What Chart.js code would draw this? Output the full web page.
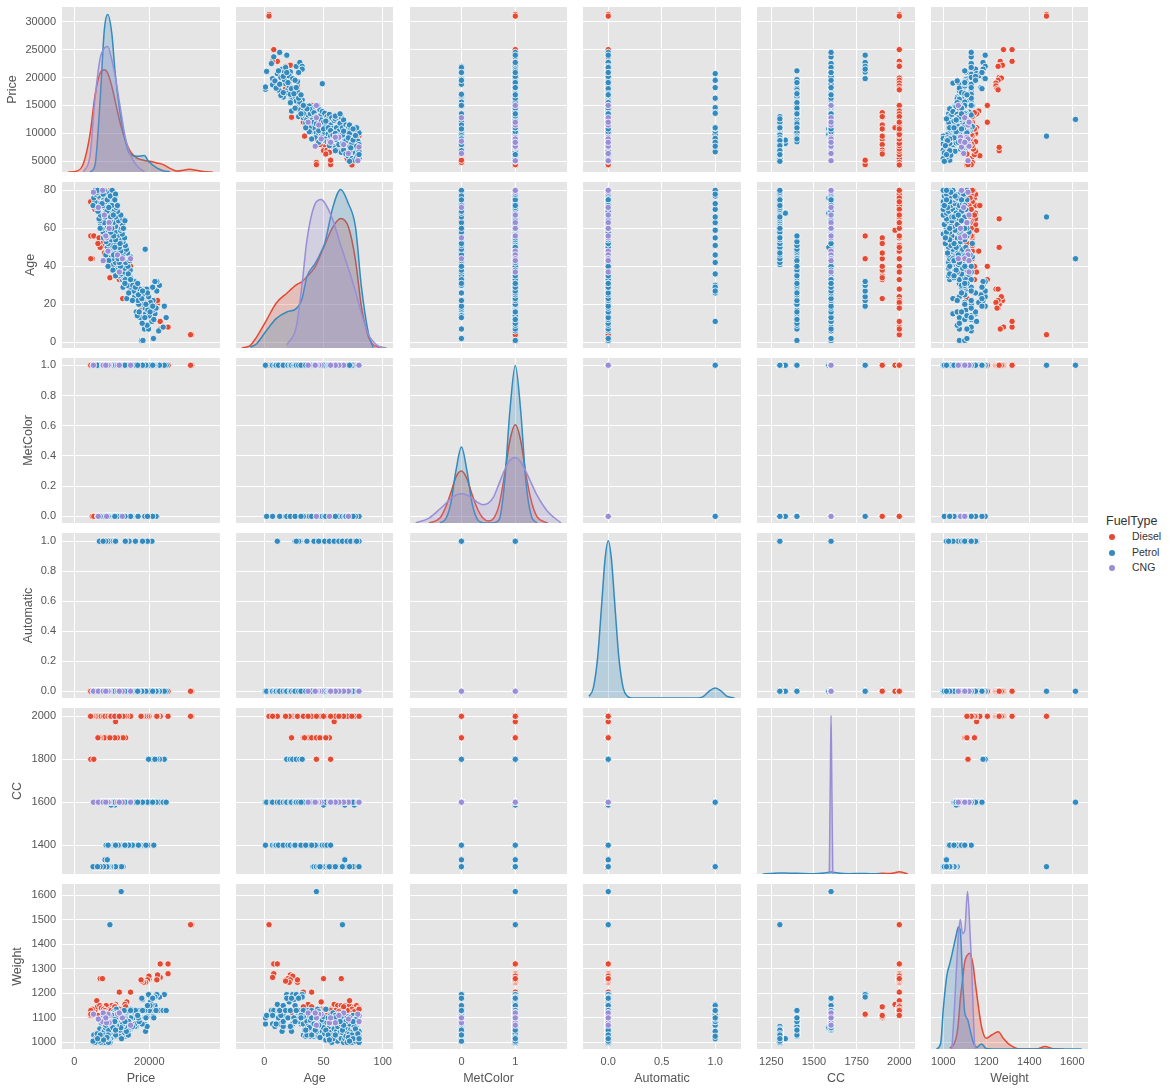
<!DOCTYPE html>
<html>
<head>
<meta charset="utf-8">
<title>Pair plot</title>
<script src="https://cdn.jsdelivr.net/npm/chart.js@4"></script>
<style>
    body { margin: 0; background: #fff; font-family: "Liberation Sans", Arial, sans-serif; }
    #grid { position: relative; width: 1171px; height: 1090px; overflow: hidden; }
    #grid canvas { position: absolute; }
    #legend { position: absolute; left: 1106px; top: 513px; color: #333; font-size: 10.5px; }
    #legend .title { font-size: 12.5px; height: 16px; line-height: 16px; }
    #legend .row { position: relative; height: 15.5px; line-height: 15.5px; padding-left: 26px; }
    #legend .dot { position: absolute; left: 2.5px; top: 5px; width: 6px; height: 6px; border-radius: 50%; }
</style>
</head>
<body>
<div id="grid">
    <div id="legend">
        <div class="title">FuelType</div>
        <div class="row"><span class="dot" style="background:#E24A33"></span>Diesel</div>
        <div class="row"><span class="dot" style="background:#348ABD"></span>Petrol</div>
        <div class="row"><span class="dot" style="background:#988ED5"></span>CNG</div>
    </div>
</div>
<script>
const variables = ['Price', 'Age', 'MetColor', 'Automatic', 'CC', 'Weight'];
const fuelTypes = ['Diesel', 'Petrol', 'CNG'];

// Tick labels
const priceTicksY = [5000, 10000, 15000, 20000, 25000, 30000];
const priceTicksX = [0, 20000];
const ageTicksY = [0, 20, 40, 60, 80];
const ageTicksX = [0, 50, 100];
const metColorTicksY = [0, 0.2, 0.4, 0.6, 0.8, 1];
const metColorTicksX = [0, 1];
const automaticTicksY = [0, 0.2, 0.4, 0.6, 0.8, 1];
const automaticTicksX = [0, 0.5, 1];
const ccTicksY = [1400, 1600, 1800, 2000];
const ccTicksX = [1250, 1500, 1750, 2000];
const weightTicksY = [1000, 1100, 1200, 1300, 1400, 1500, 1600];
const weightTicksX = [1000, 1200, 1400, 1600];

// Diesel cars
const dieselPrice = [
    31300, 31000, 25000, 25000, 22900, 22900, 22100, 22200, 22000, 20000,
    19900, 19500, 19000, 18500, 18000, 17800, 15000, 12000, 14000, 13500,
    13000, 12000, 11000, 10500, 10000, 9500, 9000, 8500, 8000, 7600,
    7000, 6900, 7500, 6000, 5500, 6200, 6800, 7200, 7800, 8200,
    9000, 9600, 10200, 9800, 11200, 10800, 12000, 4800, 4400, 4350,
    4400, 5200, 12900, 13700, 13000, 11500, 10800, 9000, 8000, 9500,
    7000, 6600, 6300];
const dieselAge = [
    4, 4, 8, 8, 11, 7, 20, 22, 18, 20,
    24, 22, 21, 28, 18, 28, 40, 33, 48, 37,
    55, 48, 59, 62, 65, 56, 60, 68, 64, 51,
    72, 50, 65, 72, 70, 76, 78, 80, 74, 78,
    76, 80, 72, 70, 66, 67, 63, 44, 56, 74,
    44, 56, 23, 33, 35, 38, 40, 44, 47, 34,
    53, 55, 52];
const dieselMetColor = [
    1, 1, 1, 1, 1, 1, 1, 1, 1, 1,
    1, 1, 1, 1, 1, 1, 1, 1, 1, 1,
    1, 0, 1, 0, 1, 1, 1, 1, 0, 1,
    1, 1, 1, 1, 0, 1, 1, 1, 0, 1,
    1, 1, 1, 1, 1, 0, 1, 0, 1, 1,
    1, 0, 1, 1, 1, 0, 1, 1, 1, 0,
    1, 1, 0];
const dieselAutomatic = [
    0, 0, 0, 0, 0, 0, 0, 0, 0, 0,
    0, 0, 0, 0, 0, 0, 0, 0, 0, 0,
    0, 0, 0, 0, 0, 0, 0, 0, 0, 0,
    0, 0, 0, 0, 0, 0, 0, 0, 0, 0,
    0, 0, 0, 0, 0, 0, 0, 0, 0, 0,
    0, 0, 0, 0, 0, 0, 0, 0, 0, 0,
    0, 0, 0];
const dieselCC = [
    2000, 2000, 2000, 2000, 2000, 2000, 2000, 2000, 2000, 2000,
    2000, 2000, 2000, 2000, 2000, 2000, 2000, 2000, 2000, 2000,
    2000, 2000, 1975, 2000, 2000, 2000, 2000, 2000, 2000, 2000,
    2000, 2000, 2000, 2000, 2000, 2000, 2000, 2000, 2000, 2000,
    2000, 2000, 2000, 2000, 2000, 2000, 2000, 2000, 2000, 2000,
    1800, 1800, 1900, 1900, 1900, 1900, 1900, 1900, 1900, 1900,
    1900, 1900, 1900];
const dieselWeight = [
    1480, 1480, 1320, 1280, 1320, 1265, 1260, 1275, 1255, 1260,
    1270, 1255, 1245, 1245, 1250, 1255, 1205, 1205, 1165, 1155,
    1135, 1135, 1155, 1150, 1150, 1135, 1130, 1150, 1130, 1135,
    1150, 1260, 1260, 1170, 1130, 1145, 1150, 1140, 1135, 1130,
    1125, 1135, 1120, 1130, 1120, 1145, 1125, 1135, 1130, 1110,
    1115, 1115, 1110, 1145, 1110, 1105, 1145, 1105, 1110, 1110,
    1100, 1105, 1110];

// Petrol cars
const petrolPrice = [
    17900, 18300, 21100, 22500, 23700, 18700, 19800, 20600, 24500, 17600,
    21500, 19000, 16500, 21000, 19400, 20700, 18100, 20000, 18900, 19900,
    24000, 21000, 19600, 17800, 20300, 18500, 16200, 17200, 19800, 22000,
    22700, 22000, 21500, 16100, 18200, 16600, 15800, 17500, 19300, 14800,
    15300, 14000, 16000, 13000, 14200, 15600, 18900, 12500, 9500, 8200,
    14000, 12800, 15000, 13200, 13800, 11900, 14600, 12500, 13300, 11400,
    14900, 12000, 13500, 10900, 14300, 11300, 12600, 10400, 13700, 11000,
    14800, 12200, 13000, 10100, 15000, 11600, 12900, 9800, 14200, 10700,
    13400, 9500, 13600, 14400, 11000, 12300, 12000, 11700, 10500, 12400,
    13900, 9300, 12000, 8800, 13600, 10200, 11200, 9000, 13000, 8500,
    12500, 9900, 13400, 8300, 11500, 9500, 12800, 8100, 10900, 7700,
    12300, 9100, 12600, 7400, 11000, 8900, 12900, 7100, 10400, 8000,
    11800, 6800, 10800, 12200, 11000, 10500, 9700, 10000, 9400, 9600,
    12900, 6600, 11000, 8200, 12400, 7000, 8800, 9900, 11500, 6300,
    10700, 8400, 11200, 5900, 9500, 7600, 10900, 6800, 9000, 5500,
    10300, 7900, 9800, 5200, 11000, 6500, 9400, 5700, 8600, 7200,
    10100, 5500, 8000, 6700, 8300, 9100, 10000, 8200, 10600, 7700,
    9700, 8700, 9200, 7400, 8800, 9600, 6100, 10400,
    21200, 16800, 17300, 18800, 20200, 21800, 19100, 20900, 17000, 15500,
    18000, 19500, 17100, 16300, 14500, 15000, 18200, 20900, 16900, 13500,
    9200, 10300, 9000, 8700, 8400, 11000, 7800, 6900, 13100, 13500,
    11500, 11000, 10800, 5000, 6200];
const petrolAge = [
    1, 1, 2, 6, 8, 7, 7, 12, 13, 13,
    15, 15, 16, 17, 9, 11, 10, 14, 18, 19,
    19, 22, 17, 20, 21, 21, 23, 20, 24, 27,
    30, 32, 32, 24, 25, 26, 27, 28, 28, 29,
    31, 23, 32, 29, 30, 30, 49, 44, 66, 68,
    33, 33, 34, 34, 35, 35, 36, 36, 37, 37,
    38, 38, 39, 39, 40, 40, 41, 41, 42, 42,
    43, 43, 44, 44, 45, 45, 46, 46, 47, 47,
    48, 48, 33, 36, 38, 40, 42, 44, 46, 48,
    49, 49, 50, 50, 51, 51, 52, 52, 53, 53,
    54, 54, 55, 55, 56, 56, 57, 57, 58, 58,
    59, 59, 60, 60, 61, 61, 62, 62, 63, 63,
    64, 64, 50, 52, 54, 56, 58, 60, 62, 64,
    65, 65, 66, 66, 67, 67, 68, 68, 69, 69,
    70, 70, 71, 71, 72, 72, 73, 73, 74, 74,
    75, 75, 76, 76, 77, 77, 78, 78, 79, 79,
    80, 80, 80, 80, 68, 70, 72, 74, 76, 78,
    66, 69, 71, 73, 75, 77, 79, 67,
    12, 14, 16, 13, 16, 18, 20, 19, 22, 22,
    23, 26, 25, 29, 26, 33, 27, 29, 31, 31,
    43, 38, 40, 47, 46, 35, 55, 60, 60, 64,
    72, 78, 75, 72, 80];
const petrolMetColor = [
    1, 1, 0, 1, 1, 1, 0, 1, 1, 1,
    1, 1, 0, 1, 1, 1, 1, 1, 1, 1,
    1, 1, 0, 1, 1, 1, 1, 1, 1, 1,
    1, 0, 1, 1, 1, 0, 1, 1, 1, 1,
    1, 1, 1, 1, 1, 0, 1, 1, 1, 1,
    1, 1, 0, 1, 1, 0, 1, 1, 1, 0,
    1, 1, 0, 1, 1, 0, 1, 1, 1, 0,
    1, 1, 0, 1, 1, 1, 0, 1, 1, 1,
    0, 1, 1, 1, 0, 1, 1, 1, 0, 1,
    1, 0, 1, 1, 0, 1, 1, 1, 0, 1,
    1, 0, 1, 1, 1, 0, 1, 1, 0, 1,
    1, 1, 0, 1, 1, 0, 1, 1, 1, 0,
    1, 1, 1, 0, 1, 1, 0, 1, 1, 1,
    1, 1, 0, 1, 1, 1, 0, 1, 1, 0,
    1, 1, 0, 1, 1, 1, 0, 1, 1, 1,
    0, 1, 1, 1, 1, 0, 1, 1, 0, 1,
    1, 1, 0, 1, 1, 1, 0, 1, 1, 1,
    1, 0, 1, 1, 1, 0, 1, 1,
    1, 0, 1, 0, 1, 0, 1, 0, 0, 1,
    1, 0, 1, 1, 1, 0, 1, 1, 1, 0,
    0, 1, 0, 1, 1, 1, 1, 0, 1, 1,
    0, 1, 0, 1, 1];
const petrolAutomatic = [
    0, 0, 0, 0, 0, 0, 0, 0, 0, 0,
    0, 0, 0, 0, 0, 1, 0, 0, 0, 0,
    0, 0, 0, 0, 0, 0, 0, 0, 0, 0,
    0, 0, 0, 0, 0, 0, 0, 0, 0, 0,
    0, 0, 0, 0, 1, 0, 0, 0, 0, 0,
    0, 0, 0, 0, 0, 0, 1, 0, 0, 0,
    0, 0, 0, 0, 0, 0, 0, 0, 1, 0,
    0, 0, 0, 0, 0, 0, 0, 1, 0, 0,
    0, 0, 0, 0, 0, 0, 0, 0, 1, 0,
    0, 0, 0, 0, 1, 0, 0, 0, 0, 0,
    0, 0, 0, 1, 0, 0, 0, 0, 0, 0,
    0, 1, 0, 0, 0, 0, 0, 0, 1, 0,
    0, 0, 0, 0, 0, 0, 0, 0, 0, 0,
    0, 0, 1, 0, 0, 0, 0, 0, 0, 0,
    0, 1, 0, 0, 0, 0, 1, 0, 0, 0,
    0, 0, 0, 0, 1, 0, 0, 0, 0, 0,
    0, 0, 0, 1, 0, 0, 0, 0, 0, 1,
    0, 0, 0, 0, 0, 0, 0, 0,
    0, 0, 0, 0, 0, 0, 0, 0, 0, 0,
    0, 1, 0, 1, 0, 0, 1, 0, 0, 0,
    0, 0, 0, 0, 0, 0, 0, 0, 0, 0,
    0, 0, 0, 0, 0];
const petrolCC = [
    1400, 1600, 1600, 1600, 1600, 1400, 1600, 1600, 1600, 1400,
    1600, 1400, 1400, 1600, 1400, 1600, 1400, 1600, 1600, 1800,
    1800, 1800, 1400, 1400, 1600, 1600, 1400, 1400, 1800, 1800,
    1800, 1800, 1800, 1400, 1600, 1400, 1400, 1600, 1600, 1400,
    1400, 1400, 1600, 1400, 1600, 1400, 1600, 1600, 1300, 1332,
    1400, 1600, 1600, 1400, 1600, 1400, 1600, 1400, 1600, 1400,
    1400, 1600, 1400, 1600, 1400, 1600, 1600, 1300, 1600, 1300,
    1400, 1600, 1300, 1400, 1600, 1400, 1600, 1300, 1400, 1600,
    1400, 1300, 1600, 1400, 1400, 1600, 1400, 1400, 1600, 1600,
    1400, 1600, 1300, 1600, 1600, 1400, 1600, 1300, 1600, 1400,
    1600, 1300, 1600, 1300, 1600, 1400, 1600, 1300, 1600, 1300,
    1600, 1600, 1300, 1600, 1300, 1300, 1600, 1300, 1600, 1300,
    1600, 1300, 1587, 1600, 1300, 1600, 1300, 1600, 1600, 1300,
    1600, 1300, 1600, 1300, 1600, 1300, 1332, 1587, 1600, 1300,
    1600, 1300, 1600, 1300, 1300, 1300, 1600, 1300, 1300, 1300,
    1600, 1300, 1587, 1300, 1600, 1300, 1600, 1300, 1300, 1600,
    1600, 1300, 1300, 1300, 1600, 1300, 1600, 1300, 1600, 1600,
    1300, 1600, 1300, 1600, 1300, 1600, 1300, 1600,
    1400, 1600, 1400, 1600, 1600, 1600, 1400, 1600, 1600, 1400,
    1600, 1600, 1400, 1600, 1400, 1600, 1600, 1600, 1600, 1400,
    1400, 1600, 1400, 1300, 1600, 1400, 1300, 1300, 1600, 1600,
    1600, 1600, 1600, 1300, 1300];
const petrolWeight = [
    1075, 1100, 1110, 1130, 1130, 1075, 1110, 1130, 1130, 1075,
    1150, 1045, 1065, 1105, 1065, 1155, 1075, 1130, 1105, 1190,
    1195, 1185, 1105, 1130, 1165, 1100, 1065, 1100, 1195, 1195,
    1185, 1195, 1185, 1075, 1175, 1100, 1130, 1130, 1105, 1100,
    1075, 1045, 1110, 1085, 1085, 1100, 1100, 1615, 1480, 1015,
    1030, 1075, 1100, 1050, 1120, 1025, 1085, 1040, 1130, 1065,
    1055, 1110, 1025, 1090, 1045, 1130, 1070, 1035, 1105, 1025,
    1060, 1115, 1030, 1085, 1135, 1050, 1095, 1025, 1075, 1120,
    1040, 1065, 1105, 1030, 1055, 1100, 1075, 1045, 1125, 1085,
    1045, 1090, 1025, 1105, 1070, 1035, 1135, 1010, 1080, 1050,
    1100, 1025, 1065, 1015, 1110, 1040, 1075, 1000, 1120, 1030,
    1055, 1085, 1015, 1100, 1045, 1025, 1070, 1005, 1115, 1035,
    1060, 1020, 1060, 1050, 1030, 1080, 1015, 1110, 1065, 1040,
    1075, 1015, 1100, 1040, 1060, 1000, 1015, 1065, 1090, 1025,
    1105, 1045, 1070, 1010, 1000, 1035, 1085, 1055, 1020, 1000,
    1110, 1050, 1060, 1030, 1095, 1005, 1070, 1015, 1040, 1080,
    1110, 1000, 1045, 1025, 1060, 1000, 1075, 1030, 1065, 1100,
    1050, 1085, 1020, 1090, 1015, 1055, 1035, 1070,
    1100, 1110, 1085, 1130, 1150, 1130, 1100, 1180, 1130, 1065,
    1180, 1150, 1100, 1130, 1085, 1130, 1130, 1180, 1110, 1100,
    1050, 1060, 1030, 1020, 1070, 1050, 1010, 1030, 1100, 1085,
    1100, 1095, 1085, 1005, 1015];

// CNG cars
const cngPrice = [5100, 7550, 6400, 8000, 9300, 9300, 8600, 9000, 11500, 12800, 15000, 7700, 12000, 8400];
const cngAge = [79, 80, 71, 67, 63, 60, 55, 48, 46, 44, 44, 43, 37, 56];
const cngMetColor = [1, 1, 0, 1, 1, 1, 0, 1, 1, 0, 1, 1, 1, 1];
const cngAutomatic = [0, 0, 0, 0, 0, 0, 0, 0, 0, 0, 0, 0, 0, 0];
const cngCC = [1600, 1600, 1600, 1600, 1600, 1600, 1600, 1600, 1600, 1600, 1600, 1600, 1600, 1600];
const cngWeight = [1115, 1085, 1095, 1120, 1110, 1080, 1080, 1115, 1115, 1100, 1070, 1120, 1120, 1100];

// Density curves on the diagonal: height as a share of the panel, null where a curve stops
const priceKdeX = [-1600, 600, 2400, 4200, 5500, 6900, 8000, 8900, 10000, 10900, 12200, 13500, 14800, 16600, 18700, 19700, 22000, 23700, 25500, 27300, 30800, 32600, 34400, 36900];
const priceKdeDiesel = [0, .005, .05, .23, .46, .6, .62, .6, .52, .43, .3, .2, .13, .085, .07, .067, .055, .045, .022, .006, .016, .01, .003, 0];
const priceKdePetrol = [null, null, null, 0, .04, .44, .86, .955, .84, .6, .36, .2, .11, .095, .1, .067, .025, .008, .002, null, null, null, null, null];
const priceKdeCng = [null, null, 0, .1, .44, .69, .75, .76, .68, .58, .4, .22, .11, .04, 0, null, null, null, null, null, null, null, null, null];

const ageKdeX = [-19, -12, -6.5, 2, 10, 19, 27, 32, 36, 43, 48, 51, 58, 64.5, 71, 77, 82, 88, 92, 96, 103];
const ageKdeDiesel = [0, .015, .066, .17, .27, .33, .38, .4, .43, .49, .57, .62, .73, .78, .73, .53, .25, .066, .02, .008, 0];
const ageKdePetrol = [null, .005, .026, .107, .177, .217, .237, .3, .43, .51, .58, .63, .85, .955, .87, .73, .37, .087, 0, null, null];
const ageKdeCng = [null, null, null, null, null, .02, .127, .39, .65, .87, .895, .875, .77, .62, .48, .34, .21, .08, .04, .012, 0];

const metColorKdeX = [-.85, -.6, -.4, -.3, -.2, -.1, 0, .1, .2, .3, .4, .5, .6, .7, .8, .9, 1, 1.1, 1.2, 1.3, 1.4, 1.6, 1.85];
const metColorKdeDiesel = [null, 0, .03, .09, .18, .28, .315, .27, .17, .085, .03, .012, .03, .11, .29, .5, .595, .5, .29, .13, .04, 0, null];
const metColorKdePetrol = [null, null, .002, .02, .115, .32, .46, .32, .115, .02, .002, 0, .002, .02, .24, .68, .955, .68, .24, .04, .002, null, null];
const metColorKdeCng = [0, .03, .085, .115, .15, .17, .178, .17, .15, .125, .11, .12, .16, .24, .32, .38, .397, .37, .31, .24, .17, .07, 0];

const automaticKdeX = [-.18, -.14, -.1, -.06, -.03, 0, .03, .06, .1, .14, .18, .22, .8, .86, .9, .95, 1, 1.05, 1.1, 1.14, 1.18];
const automaticKdePetrol = [.01, .06, .24, .58, .84, .953, .84, .58, .24, .06, .01, 0, 0, .002, .015, .045, .06, .045, .015, .004, 0];

const ccKdeX = [1200, 1250, 1300, 1350, 1400, 1500, 1560, 1590, 1596, 1600, 1604, 1610, 1640, 1700, 1800, 1850, 1900, 1950, 1975, 2000, 2025, 2050, 2075];
const ccKdeDiesel = [null, null, null, null, null, null, null, null, null, null, null, null, null, null, null, 0, .004, .003, .008, .014, .008, .001, null];
const ccKdePetrol = [0, .003, .006, .005, .004, .002, .006, .01, .012, .012, .012, .011, .006, .002, .003, .001, 0, null, null, null, null, null, null];
const ccKdeCng = [null, null, null, null, null, null, null, 0, .6, .955, .6, 0, null, null, null, null, null, null, null, null, null, null, null];

const weightKdeX = [969, 988, 1000, 1016, 1031, 1040, 1050, 1062, 1070, 1079, 1090, 1100, 1113, 1124, 1132, 1140, 1147, 1155, 1178, 1200, 1225, 1256, 1279, 1310, 1357, 1434, 1473, 1512, 1558, 1643];
const weightKdeDiesel = [null, null, null, null, .005, .015, .03, .08, .155, .3, .42, .53, .57, .58, .55, .5, .42, .34, .135, .065, .085, .105, .065, .025, 0, 0, .015, .002, 0, null];
const weightKdePetrol = [0, .035, .24, .44, .52, .57, .63, .7, .74, .72, .42, .22, .18, .12, .075, .04, .02, .01, .03, .003, 0, 0, 0, 0, 0, 0, 0, .001, 0, 0];
const weightKdeCng = [null, null, null, null, null, 0, .2, .5, .68, .785, .7, .72, .955, .72, .5, .2, .015, 0, null, null, null, null, null, null, null, null, null, null, null, null];

// Lookups built from the lists above
const fuelColumns = {
    Diesel: { Price: dieselPrice, Age: dieselAge, MetColor: dieselMetColor, Automatic: dieselAutomatic, CC: dieselCC, Weight: dieselWeight },
    Petrol: { Price: petrolPrice, Age: petrolAge, MetColor: petrolMetColor, Automatic: petrolAutomatic, CC: petrolCC, Weight: petrolWeight },
    CNG: { Price: cngPrice, Age: cngAge, MetColor: cngMetColor, Automatic: cngAutomatic, CC: cngCC, Weight: cngWeight }
};
const kdeCurves = {
    Price: { x: priceKdeX, Diesel: priceKdeDiesel, Petrol: priceKdePetrol, CNG: priceKdeCng },
    Age: { x: ageKdeX, Diesel: ageKdeDiesel, Petrol: ageKdePetrol, CNG: ageKdeCng },
    MetColor: { x: metColorKdeX, Diesel: metColorKdeDiesel, Petrol: metColorKdePetrol, CNG: metColorKdeCng },
    Automatic: { x: automaticKdeX, Petrol: automaticKdePetrol },
    CC: { x: ccKdeX, Diesel: ccKdeDiesel, Petrol: ccKdePetrol, CNG: ccKdeCng },
    Weight: { x: weightKdeX, Diesel: weightKdeDiesel, Petrol: weightKdePetrol, CNG: weightKdeCng }
};

const fuelColors = { Diesel: '#E24A33', Petrol: '#348ABD', CNG: '#988ED5' };
const fuelFills = { Diesel: 'rgba(226,74,51,0.25)', Petrol: 'rgba(52,138,189,0.25)', CNG: 'rgba(152,142,213,0.25)' };
const drawOrder = { Diesel: 3, Petrol: 2, CNG: 1 }; // lower order is painted last

// Axis ranges and panel layout
const axisSettings = {
    Price: { xMin: -3280, xMax: 38850, yMin: 3084, yMax: 32630, xTicks: priceTicksX, yTicks: priceTicksY, xFmt: 0, yFmt: 0 },
    Age: { xMin: -23.9, xMax: 108.7, yMin: -3, yMax: 84.4, xTicks: ageTicksX, yTicks: ageTicksY, xFmt: 0, yFmt: 0 },
    MetColor: { xMin: -0.955, xMax: 1.96, yMin: -0.044, yMax: 1.048, xTicks: metColorTicksX, yTicks: metColorTicksY, xFmt: 0, yFmt: 1 },
    Automatic: { xMin: -0.236, xMax: 1.241, yMin: -0.045, yMax: 1.055, xTicks: automaticTicksX, yTicks: automaticTicksY, xFmt: 1, yFmt: 1 },
    CC: { xMin: 1166, xMax: 2092, yMin: 1266, yMax: 2038.6, xTicks: ccTicksX, yTicks: ccTicksY, xFmt: 0, yFmt: 0 },
    Weight: { xMin: 943, xMax: 1673, yMin: 973, yMax: 1646, xTicks: weightTicksX, yTicks: weightTicksY, xFmt: 0, yFmt: 0 }
};
const colLeft = [62, 236, 410, 583, 757, 931];
const colWidth = [158, 157, 157, 158, 158, 157];
const rowTop = [7, 182, 358, 533, 708, 884];
const rowHeight = [165, 166, 165, 165, 166, 165];
const yAxisWidth = [60, 42, 44, 44, 55, 55];
const xAxisHeight = 37;

const panelBackground = {
    id: 'panelBackground',
    beforeDraw(chart) {
        const { ctx, chartArea: a } = chart;
        ctx.save();
        ctx.fillStyle = '#E5E5E5';
        ctx.fillRect(a.left, a.top, a.right - a.left, a.bottom - a.top);
        ctx.restore();
    }
};

function axisOptions(name, axis, showLabels, fixedSize) {
    const s = axisSettings[name];
    const ticks = axis === 'x' ? s.xTicks : s.yTicks;
    const digits = axis === 'x' ? s.xFmt : s.yFmt;
    return {
        type: 'linear',
        position: axis === 'x' ? 'bottom' : 'left',
        min: axis === 'x' ? s.xMin : s.yMin,
        max: axis === 'x' ? s.xMax : s.yMax,
        afterBuildTicks: scale => { scale.ticks = ticks.map(v => ({ value: v })); },
        afterFit: scale => {
            if (axis === 'x') scale.height = fixedSize;
            else scale.width = fixedSize;
            // tick labels may hang past the panel, the panel itself stays put
            scale.paddingTop = 0;
            scale.paddingBottom = 0;
            scale.paddingLeft = 0;
            scale.paddingRight = 0;
        },
        grid: { color: '#fff', lineWidth: 1, drawTicks: false },
        border: { display: false },
        ticks: {
            display: showLabels,
            autoSkip: false,
            maxRotation: 0,
            padding: 6,
            color: '#555555',
            font: { family: '"Liberation Sans"', size: 11 },
            callback: v => Number(v).toFixed(digits)
        },
        title: {
            display: showLabels,
            text: name,
            color: '#555555',
            padding: { top: 3, bottom: 0 },
            font: { family: '"Liberation Sans"', size: 12.5 }
        }
    };
}

function scatterDatasets(xName, yName) {
    return fuelTypes.map(fuel => {
        const cols = fuelColumns[fuel];
        return {
            label: fuel,
            order: drawOrder[fuel],
            data: cols[xName].map((v, i) => ({ x: v, y: cols[yName][i] })),
            pointRadius: 3.2,
            pointBorderWidth: 0.8,
            pointBackgroundColor: fuelColors[fuel],
            pointBorderColor: '#fff'
        };
    });
}

function kdeDatasets(name) {
    const curves = kdeCurves[name];
    return fuelTypes.filter(fuel => curves[fuel]).map(fuel => ({
        type: 'line',
        label: fuel,
        order: drawOrder[fuel],
        yAxisID: 'density',
        data: curves.x.map((v, i) => ({ x: v, y: curves[fuel][i] })).filter(p => p.y !== null),
        borderColor: fuelColors[fuel],
        backgroundColor: fuelFills[fuel],
        borderWidth: 1.5,
        pointRadius: 0,
        fill: 'origin',
        cubicInterpolationMode: 'monotone'
    }));
}

function drawPanel(row, col) {
    const xName = variables[col];
    const yName = variables[row];
    const showY = col === 0;
    const showX = row === 5;
    const padLeft = showY ? yAxisWidth[row] : 0;
    const padBottom = showX ? xAxisHeight : 0;

    const canvas = document.createElement('canvas');
    canvas.width = colWidth[col] + padLeft;
    canvas.height = rowHeight[row] + padBottom;
    canvas.style.left = (colLeft[col] - padLeft) + 'px';
    canvas.style.top = rowTop[row] + 'px';
    document.getElementById('grid').appendChild(canvas);

    const scales = {
        x: axisOptions(xName, 'x', showX, padBottom),
        y: axisOptions(yName, 'y', showY, padLeft)
    };
    if (row === col) {
        scales.density = { display: false, min: 0, max: 1 };
    }

    new Chart(canvas.getContext('2d'), {
        type: 'scatter',
        data: { datasets: row === col ? kdeDatasets(xName) : scatterDatasets(xName, yName) },
        options: {
            responsive: false,
            animation: false,
            devicePixelRatio: 1,
            layout: { padding: 0, autoPadding: false },
            plugins: { legend: { display: false }, tooltip: { enabled: false } },
            scales: scales
        },
        plugins: [panelBackground]
    });
}

document.addEventListener('DOMContentLoaded', () => {
    for (let row = 0; row < variables.length; row++) {
        for (let col = 0; col < variables.length; col++) {
            drawPanel(row, col);
        }
    }
});
</script>
</body>
</html>
